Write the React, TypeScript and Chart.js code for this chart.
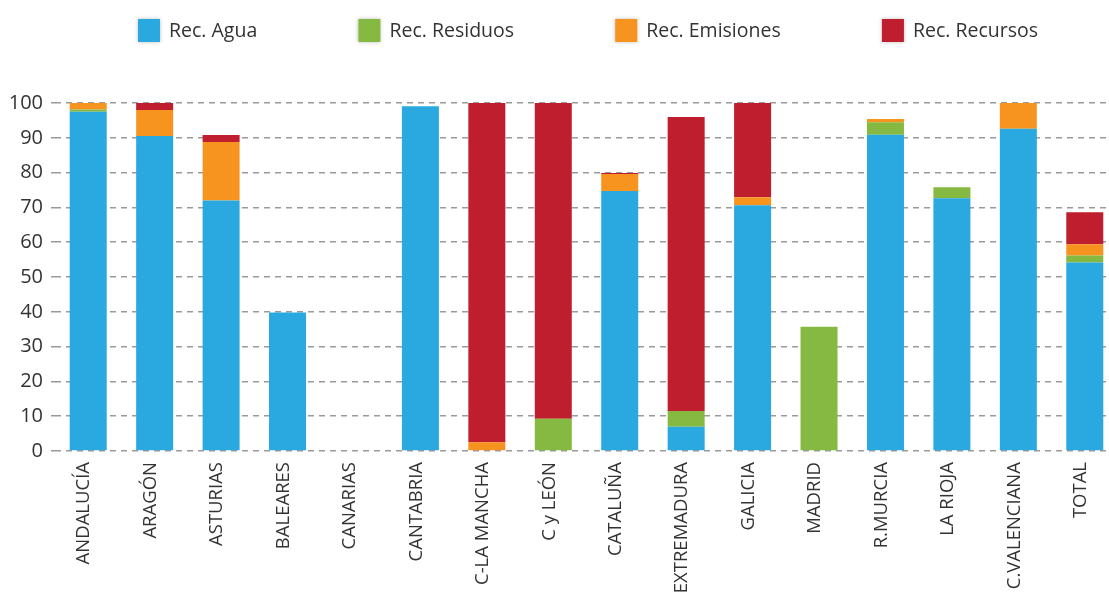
import React, { useEffect, useRef } from "react";
import { Chart, registerables } from "chart.js";

Chart.register(...registerables);

const categories = [
  "ANDALUCÍA", "ARAGÓN", "ASTURIAS", "BALEARES", "CANARIAS", "CANTABRIA",
  "C-LA MANCHA", "C y LEÓN", "CATALUÑA", "EXTREMADURA", "GALICIA", "MADRID",
  "R.MURCIA", "LA RIOJA", "C.VALENCIANA", "TOTAL",
];
const seriesNames = ["Rec. Agua", "Rec. Residuos", "Rec. Emisiones", "Rec. Recursos"];
const agua = [97.5, 90.5, 72, 39.8, 0, 99.1, 0, 0, 74.7, 7, 70.6, 0, 90.9, 72.6, 92.6, 54.2];
const residuos = [0.6, 0, 0, 0, 0, 0, 0, 9.3, 0, 4.5, 0, 35.7, 3.6, 3.2, 0, 2.0];
const emisiones = [1.9, 7.5, 16.8, 0, 0, 0, 2.5, 0, 4.9, 0, 2.3, 0, 0.9, 0, 7.4, 3.2];
const recursos = [0, 2, 2, 0, 0, 0, 97.5, 90.7, 0.3, 84.5, 27.1, 0, 0, 0, 0, 9.2];
const colors = ["#29A9E0", "#86B942", "#F7941F", "#BE1E2D"];
const yTicks = [0, 10, 20, 30, 40, 50, 60, 70, 80, 90, 100];

const FONT = "'Open Sans', 'Noto Sans', sans-serif";

const customLegend = {
  id: "customLegend",
  afterDraw(chart: any) {
    const ctx = chart.ctx;
    const ds = chart.data.datasets;
    ctx.save();
    ctx.font = `19.5px ${FONT}`;
    const boxW = 22, boxH = 23, textGap = 9;
    const startX = 138, endX = 1038;
    const widths = ds.map((d: any) => boxW + textGap + ctx.measureText(d.label).width);
    const sum = widths.reduce((a: number, b: number) => a + b, 0);
    const itemGap = (endX - startX - sum) / (ds.length - 1);
    let x = startX;
    const top = 19;
    ds.forEach((d: any, i: number) => {
      ctx.fillStyle = d.backgroundColor;
      ctx.shadowColor = "rgba(0,0,0,0.25)";
      ctx.shadowBlur = 4;
      ctx.fillRect(x, top, boxW, boxH);
      ctx.shadowBlur = 0;
      ctx.shadowColor = "transparent";
      ctx.fillStyle = "#333";
      ctx.textBaseline = "middle";
      ctx.textAlign = "left";
      ctx.fillText(d.label, x + boxW + textGap, top + boxH / 2 + 1);
      x += widths[i] + itemGap;
    });
    ctx.restore();
  },
};

export default function App() {
  const ref = useRef<HTMLCanvasElement>(null);
  useEffect(() => {
    if (!ref.current) return;
    const series = [agua, residuos, emisiones, recursos];
    const chart = new Chart(ref.current, {
      type: "bar",
      data: {
        labels: categories,
        datasets: series.map((s, i) => ({
          label: seriesNames[i],
          data: s,
          backgroundColor: colors[i],
          borderWidth: 0,
          categoryPercentage: 1,
          barPercentage: 0.557,
        })),
      },
      options: {
        responsive: false,
        animation: false,
        devicePixelRatio: 1,
        layout: { padding: { top: 103, right: 0, left: 0, bottom: 0 } },
        plugins: {
          legend: { display: false },
          tooltip: { enabled: false },
        },
        scales: {
          x: {
            stacked: true,
            grid: { display: false, drawTicks: false },
            border: { display: false },
            ticks: {
              minRotation: 90,
              maxRotation: 90,
              autoSkip: false,
              padding: 11,
              labelOffset: -4,
              color: "#333",
              font: { family: FONT, size: 18.5 },
            },
            afterFit: (scale: any) => {
              scale.height = 141;
              scale.paddingLeft = 0;
              scale.paddingRight = 0;
            },
          },
          y: {
            stacked: true,
            min: 0,
            max: 100,
            afterBuildTicks: (scale: any) => {
              scale.ticks = yTicks.map((v) => ({ value: v }));
            },
            grid: {
              color: "#9a9a9a",
              lineWidth: 1.5,
              drawTicks: true,
              tickLength: 4,
              tickColor: "#9a9a9a",
              tickWidth: 1.5,
              tickBorderDash: [6, 5],
            },
            border: { display: false, dash: [6, 5] },
            ticks: {
              padding: 8,
              color: "#333",
              font: { family: FONT, size: 20 },
            },
            afterFit: (scale: any) => {
              scale.width = 55;
            },
          },
        },
      },
      plugins: [customLegend],
    });
    return () => chart.destroy();
  }, []);

  return (
    <div
      style={{
        position: "fixed",
        left: 0,
        top: 0,
        width: 1109,
        height: 592,
        overflow: "hidden",
        background: "#fff",
      }}
    >
      <canvas ref={ref} width={1118} height={592} style={{ display: "block" }} />
    </div>
  );
}
